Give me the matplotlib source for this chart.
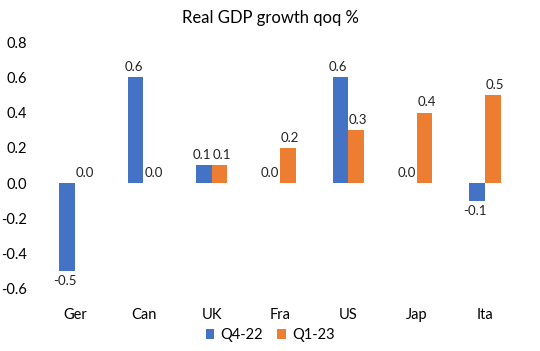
import numpy as np
import matplotlib.pyplot as plt

countries = ["Ger", "Can", "UK", "Fra", "US", "Jap", "Ita"]
q4_22 = [-0.5, 0.6, 0.1, 0.0, 0.6, 0.0, -0.1]
q1_23 = [0.0, 0.0, 0.1, 0.2, 0.3, 0.4, 0.5]
series_names = ["Q4-22", "Q1-23"]

plt.rcParams["font.family"] = ["Lato", "DejaVu Sans"]
blue = "#4472C4"
orange = "#ED7D31"

fig = plt.figure(figsize=(5.4, 3.51), dpi=100)
ax = fig.add_axes([0.076, 0.177, 0.885, 0.703])

x = np.arange(len(countries))
w = 0.23
b1 = ax.bar(x - w / 2, q4_22, w, color=blue, label=series_names[0])
b2 = ax.bar(x + w / 2, q1_23, w, color=orange, label=series_names[1])

# labels nudged a little outward so side-by-side ones don't collide
for bars, vals, dx in [(b1, q4_22, -1.5), (b2, q1_23, 1.5)]:
    for bar, v in zip(bars, vals):
        xc = bar.get_x() + bar.get_width() / 2
        dy = -3 if v < 0 else 3
        ax.annotate(f"{v:.1f}", (xc, v), xytext=(dx, dy), textcoords="offset points",
                    ha="center", va="top" if v < 0 else "bottom", fontsize=9.5, color="#222222")

ax.set_xlim(-0.5, len(countries) - 0.5)
ax.set_ylim(-0.6, 0.8)
ticks = np.arange(-0.6, 0.81, 0.2)
ax.set_yticks(ticks)
ax.set_yticklabels([f"{t:.1f}" for t in ticks], fontsize=10.5)
ax.set_xticks(x)
ax.set_xticklabels(countries, fontsize=10.5)
ax.tick_params(length=0)
ax.tick_params(axis="x", pad=14)
ax.tick_params(axis="y", pad=10)
for s in ax.spines.values():
    s.set_visible(False)

fig.text(0.5, 0.95, "Real GDP growth qoq %", ha="center", va="center", fontsize=12)
fig.legend(loc="center", bbox_to_anchor=(0.5, 0.045), ncol=2, frameon=False,
           fontsize=10.5, handlelength=0.6, handleheight=0.6, handletextpad=0.4, columnspacing=1.0)

fig.savefig("out.png", dpi=100)
